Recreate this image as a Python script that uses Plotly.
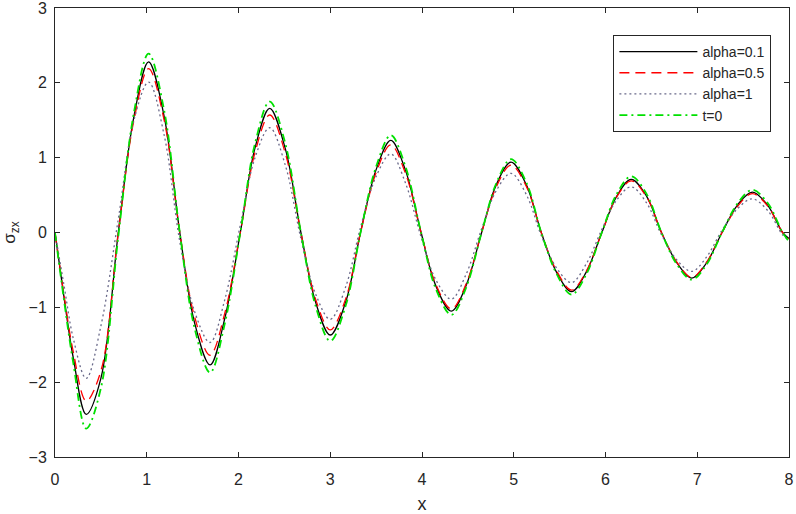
import plotly.graph_objects as go

# knot positions along x (extrema, zero crossings and mid-points)
x_knots = [0, 0.1, 0.2, 0.34, 0.5, 0.69, 0.86, 1.02, 1.19, 1.36, 1.52, 1.69, 1.85, 2.02,
           2.18, 2.34, 2.51, 2.68, 2.84, 3.0, 3.17, 3.33, 3.5, 3.66, 3.82, 3.99, 4.15,
           4.32, 4.48, 4.65, 4.81, 4.97, 5.14, 5.30, 5.47, 5.63, 5.79, 5.96, 6.12, 6.28,
           6.45, 6.61, 6.78, 6.94, 7.1, 7.27, 7.44, 7.6, 7.77, 7.93, 8.0]

alpha_01 = [0, -0.88, -1.68, -2.43, -1.95, 0.0, 1.55, 2.28, 1.55, 0.0, -1.2, -1.77, -1.15, 0.0,
            1.13, 1.66, 1.12, 0.0, -0.93, -1.37, -0.92, 0.0, 0.84, 1.23, 0.83, 0.0, -0.71,
            -1.05, -0.71, 0.0, 0.64, 0.94, 0.63, 0.0, -0.54, -0.79, -0.53, 0.0, 0.48, 0.71,
            0.48, 0.0, -0.41, -0.61, -0.41, 0.0, 0.37, 0.54, 0.36, 0.0, -0.08]

alpha_05 = [0, -0.85, -1.6, -2.25, -1.85, 0.0, 1.5, 2.19, 1.5, 0.0, -1.12, -1.64, -1.08, 0.0,
            1.07, 1.57, 1.06, 0.0, -0.89, -1.30, -0.88, 0.0, 0.8, 1.17, 0.79, 0.0, -0.69,
            -1.02, -0.69, 0.0, 0.61, 0.90, 0.61, 0.0, -0.52, -0.77, -0.52, 0.0, 0.47, 0.69,
            0.47, 0.0, -0.40, -0.60, -0.40, 0.0, 0.35, 0.52, 0.35, 0.0, -0.08]

alpha_1 = [0, -0.72, -1.42, -1.95, -1.25, 0.18, 1.5, 2.01, 1.3, -0.12, -1.05, -1.47, -0.9, 0.1,
           1.0, 1.40, 0.9, -0.08, -0.82, -1.16, -0.72, 0.07, 0.75, 1.05, 0.66, -0.06, -0.63,
           -0.89, -0.56, 0.05, 0.56, 0.79, 0.5, -0.04, -0.48, -0.67, -0.42, 0.04, 0.43, 0.61,
           0.39, -0.03, -0.37, -0.52, -0.33, 0.03, 0.32, 0.45, 0.29, -0.03, -0.1]

t_0 = [0, -0.92, -1.75, -2.62, -2.08, -0.05, 1.6, 2.39, 1.63, 0.0, -1.27, -1.87, -1.22, 0.0,
       1.19, 1.75, 1.19, 0.0, -0.98, -1.45, -0.97, 0.0, 0.88, 1.30, 0.88, 0.0, -0.75,
       -1.10, -0.74, 0.0, 0.66, 0.98, 0.66, 0.0, -0.56, -0.83, -0.56, 0.0, 0.51, 0.75,
       0.51, 0.0, -0.43, -0.63, -0.43, 0.0, 0.39, 0.57, 0.39, 0.0, -0.12]

series_names = ["alpha=0.1", "alpha=0.5", "alpha=1", "t=0"]
x_ticks = [0, 1, 2, 3, 4, 5, 6, 7, 8]
y_ticks = [-3, -2, -1, 0, 1, 2, 3]

styles = [
    dict(color="black", width=1.3, dash="solid"),
    dict(color="#ff0000", width=1.3, dash="10px,6px"),
    dict(color="#6a6a8a", width=1.3, dash="2px,3px"),
    dict(color="#00e000", width=1.8, dash="8px,4px,2px,4px"),
]

fig = go.Figure()
for name, ys, st in zip(series_names, [alpha_01, alpha_05, alpha_1, t_0], styles):
    fig.add_trace(go.Scatter(x=x_knots, y=ys, mode="lines", name=name,
                             line=dict(shape="spline", smoothing=1.0, **st)))

axis_common = dict(showgrid=False, zeroline=False, showline=True, linecolor="#262626",
                   linewidth=1, mirror="ticks", ticks="inside", ticklen=5,
                   tickcolor="#262626", ticklabeloverflow="allow", automargin=False,
                   tickfont=dict(family="Liberation Sans, Arial", size=16, color="#262626"))

fig.update_layout(
    width=796, height=514,
    margin=dict(l=55, r=7, t=8, b=57),
    paper_bgcolor="white", plot_bgcolor="white",
    font=dict(family="Liberation Sans, Arial", color="#262626"),
    xaxis=dict(range=[-0.00001, 8.00001], tickvals=x_ticks, ticklabelstandoff=8,
               title=dict(text="x", font=dict(size=18), standoff=14), **axis_common),
    yaxis=dict(range=[-3.00001, 3.00001], tickvals=y_ticks, ticklabelstandoff=4,
               title=dict(text="σ<sub>zx</sub>", font=dict(size=17), standoff=12),
               **axis_common),
    legend=dict(x=0.976, y=0.94, xanchor="right", yanchor="top",
                bgcolor="white", bordercolor="#262626", borderwidth=1,
                font=dict(size=14, color="#262626"), tracegroupgap=0,
                itemwidth=78),
    showlegend=True,
)

fig.write_html("out.html", config={"displayModeBar": False},
               post_script="document.body.style.margin='0';")
